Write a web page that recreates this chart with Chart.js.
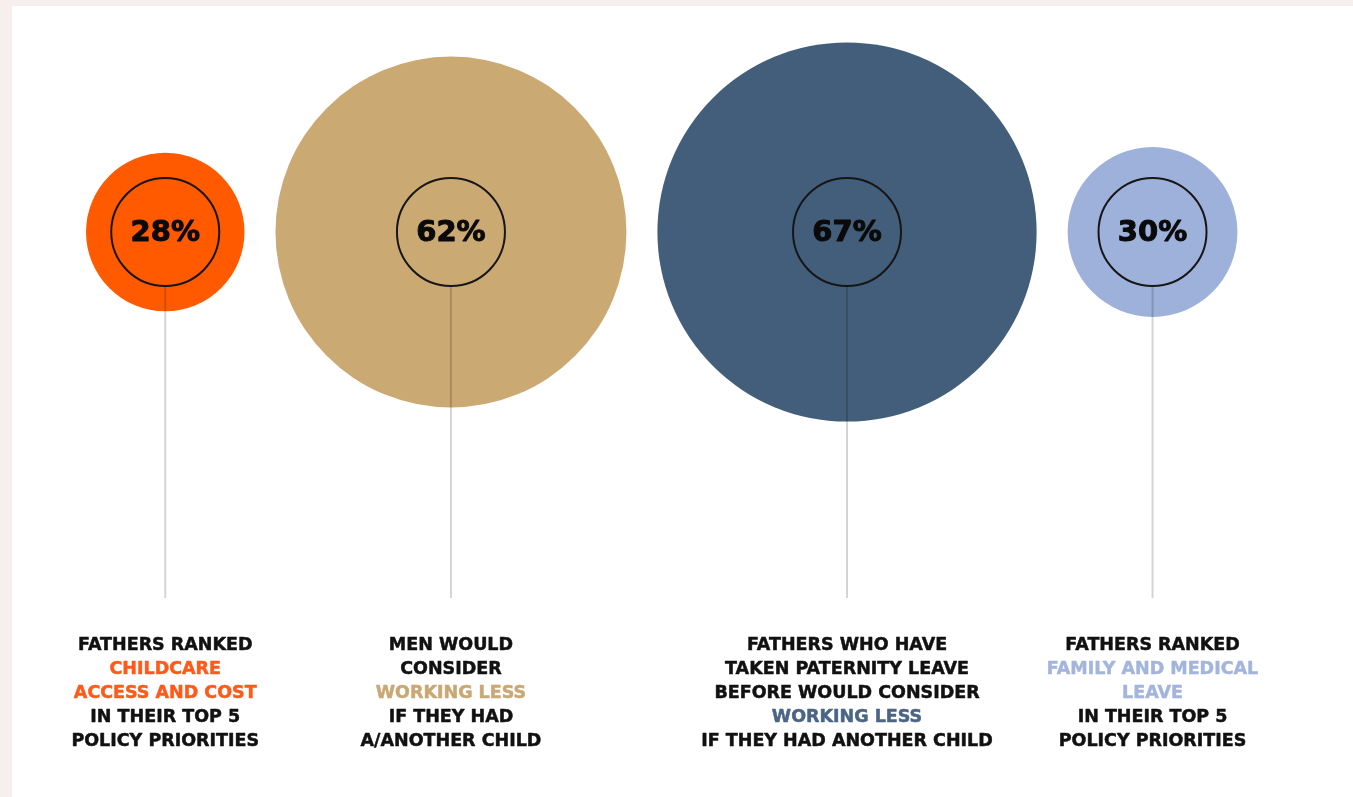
<!DOCTYPE html>
<html>
<head>
<meta charset="utf-8">
<script src="https://cdn.jsdelivr.net/npm/chart.js@4/dist/chart.umd.min.js"></script>
<style>
  html, body { margin: 0; padding: 0; width: 1353px; height: 797px; overflow: hidden; background: #f7eeee; }
  #panel { position: absolute; left: 12px; top: 6px; right: 0; bottom: 0; background: #ffffff; }
  #wrap { position: absolute; left: 0; top: 0; width: 1353px; height: 797px; }
</style>
</head>
<body>
<div id="panel"></div>
<div id="wrap"><canvas id="c" width="1353" height="797"></canvas></div>
<script>
// ---- data ----
const categories = ['Childcare access and cost', 'Working less', 'Working less (took paternity leave)', 'Family and medical leave'];
const values = [28, 62, 67, 30];
const valueLabels = ['28%', '62%', '67%', '30%'];
const captionLines = [
  ['FATHERS RANKED', 'CHILDCARE', 'ACCESS AND COST', 'IN THEIR TOP 5', 'POLICY PRIORITIES'],
  ['MEN WOULD', 'CONSIDER', 'WORKING LESS', 'IF THEY HAD', 'A/ANOTHER CHILD'],
  ['FATHERS WHO HAVE', 'TAKEN PATERNITY LEAVE', 'BEFORE WOULD CONSIDER', 'WORKING LESS', 'IF THEY HAD ANOTHER CHILD'],
  ['FATHERS RANKED', 'FAMILY AND MEDICAL', 'LEAVE', 'IN THEIR TOP 5', 'POLICY PRIORITIES']
];
const captionHighlight = [[1, 2], [2], [3], [1, 2]];

// ---- styles / layout ----
const bubbleColors = ['#ff5a00', '#cba973', '#435e7a', '#9db1da'];
const textColors = ['#ff5a1a', '#c9a874', '#4a6585', '#a3b5dd'];
const pxPerPct = 2.83;
const leftEdge = 86;
const gap = 31;
const centerY = 232;
const innerR = 54;
const lineEndY = 598;
const captionTop = 645;
const captionStep = 24;

// bubbles packed left to right, radius proportional to value
const radii = values.map(v => v * pxPerPct);
const xs = [];
radii.forEach((r, i) => {
  if (i === 0) xs.push(leftEdge + r);
  else xs.push(xs[i - 1] + radii[i - 1] + gap + r);
});
const bubbleData = values.map((v, i) => ({ x: xs[i], y: centerY, r: radii[i] }));

const overlay = {
  id: 'overlay',
  afterDatasetsDraw(chart) {
    const ctx = chart.ctx;
    const meta = chart.getDatasetMeta(0);
    meta.data.forEach((el, i) => {
      const x = el.x, y = el.y;
      ctx.save();
      // stem
      ctx.strokeStyle = 'rgba(0,0,0,0.17)';
      ctx.lineWidth = 2;
      ctx.beginPath();
      ctx.moveTo(x, y + innerR);
      ctx.lineTo(x, lineEndY);
      ctx.stroke();
      // inner ring
      ctx.strokeStyle = '#161616';
      ctx.lineWidth = 2;
      ctx.beginPath();
      ctx.arc(x, y, innerR, 0, Math.PI * 2);
      ctx.stroke();
      // value
      ctx.fillStyle = '#0a0a0a';
      ctx.strokeStyle = '#0a0a0a';
      ctx.lineWidth = 1;
      ctx.lineJoin = 'round';
      ctx.font = 'bold 29px "DejaVu Sans"';
      ctx.textAlign = 'center';
      ctx.textBaseline = 'middle';
      ctx.fillText(valueLabels[i], x, y + 1);
      ctx.strokeText(valueLabels[i], x, y + 1);
      // caption
      ctx.font = 'bold 17.5px "DejaVu Sans"';
      ctx.lineWidth = 0.5;
      captionLines[i].forEach((t, k) => {
        const c = captionHighlight[i].includes(k) ? textColors[i] : '#111111';
        ctx.fillStyle = c;
        ctx.strokeStyle = c;
        ctx.fillText(t, x, captionTop + k * captionStep);
        ctx.strokeText(t, x, captionTop + k * captionStep);
      });
      ctx.restore();
    });
  }
};

new Chart(document.getElementById('c'), {
  type: 'bubble',
  data: {
    labels: categories,
    datasets: [{
      data: bubbleData,
      backgroundColor: bubbleColors,
      borderWidth: 0,
      hoverBorderWidth: 0,
      hoverRadius: 0,
      clip: false
    }]
  },
  options: {
    responsive: false,
    animation: false,
    events: [],
    layout: { padding: 0, autoPadding: false },
    plugins: { legend: { display: false }, tooltip: { enabled: false } },
    scales: {
      x: { type: 'linear', display: false, min: 0, max: 1353 },
      y: { type: 'linear', display: false, min: 0, max: 797, reverse: true }
    }
  },
  plugins: [overlay]
});
</script>
</body>
</html>
